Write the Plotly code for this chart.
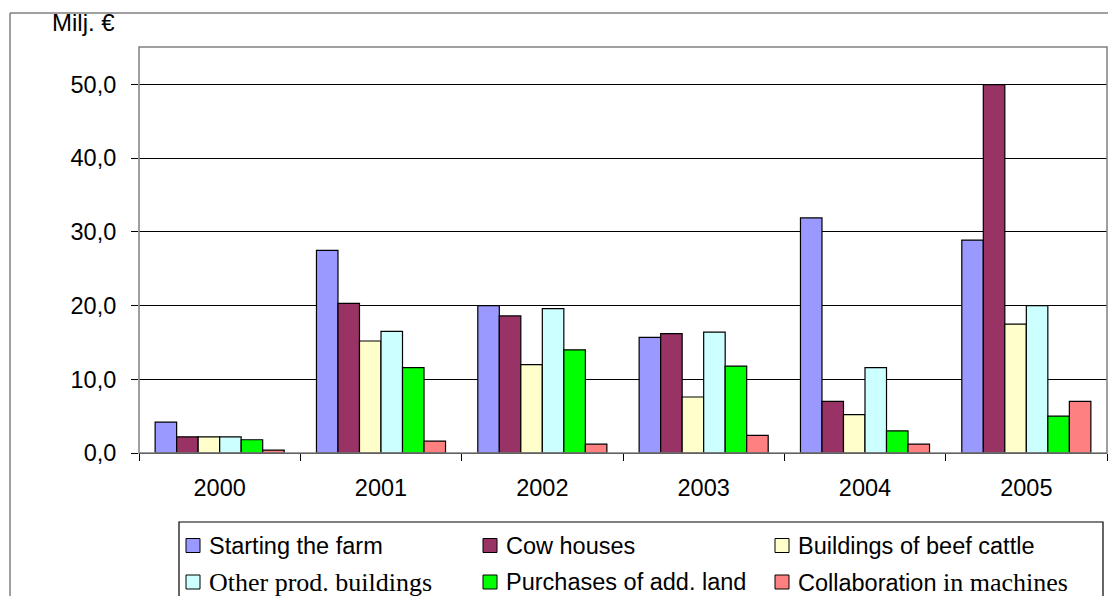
import plotly.graph_objects as go

# Investment support by purpose, million euro
years = ["2000", "2001", "2002", "2003", "2004", "2005"]
series_names = [
    "Starting the farm",
    "Cow houses",
    "Buildings of beef cattle",
    "Other prod. buildings",
    "Purchases of add. land",
    "Collaboration in machines",
]
starting_farm = [4.2, 27.5, 20.0, 15.7, 31.9, 28.9]
cow_houses = [2.2, 20.3, 18.6, 16.2, 7.0, 50.0]
beef_buildings = [2.2, 15.2, 12.0, 7.6, 5.2, 17.5]
other_buildings = [2.2, 16.5, 19.6, 16.4, 11.6, 20.0]
land_purchases = [1.8, 11.6, 14.0, 11.8, 3.0, 5.0]
machine_collab = [0.4, 1.6, 1.2, 2.4, 1.2, 7.0]
series_values = [starting_farm, cow_houses, beef_buildings,
                 other_buildings, land_purchases, machine_collab]
colors = ["#9999FF", "#993366", "#FFFFCC", "#CCFFFF", "#00FF00", "#FF8080"]

# Legend labels (some entries mix sans and serif type)
SERIF = "style='font-family:Liberation Serif, Times New Roman, serif;font-size:26px'"
legend_labels = [
    "Starting the farm",
    "Cow houses",
    "Buildings of beef cattle",
    f"<span {SERIF}>Other prod. buildings</span>",
    "Purchases of add. land",
    f"Collaboration<span {SERIF}> in machines</span>",
]

W, H = 1108, 596
L, R, T, B = 139, 1107, 47, 453
SANS = "Liberation Sans, Arial, sans-serif"
FS = 23.5


def px(x):
    return (x - L) / (R - L)


def py(y):
    return (B - y) / (B - T)


fig = go.Figure()
for name, vals, col in zip(series_names, series_values, colors):
    fig.add_trace(go.Bar(
        x=years, y=vals, name=name,
        marker=dict(color=col, line=dict(color="#000000", width=1.2)),
        showlegend=False,
    ))

shapes = [
    # outer chart frame (top and left edges; the rest runs off the page)
    dict(type="line", xref="paper", yref="paper",
         x0=px(10), x1=px(W), y0=py(13), y1=py(13),
         line=dict(color="#808080", width=1.5), layer="below"),
    dict(type="line", xref="paper", yref="paper",
         x0=px(10), x1=px(10), y0=py(13), y1=py(H),
         line=dict(color="#808080", width=1.5), layer="below"),
    # plot area border
    dict(type="rect", xref="paper", yref="paper",
         x0=0, x1=1, y0=0, y1=1,
         line=dict(color="#808080", width=1.5), layer="above"),
    # legend frame (top, left, right edges)
    dict(type="path", xref="paper", yref="paper",
         path=f"M {px(179)} {py(H)} L {px(179)} {py(522)} L {px(1103)} {py(522)} L {px(1103)} {py(H)}",
         line=dict(color="#000000", width=1.2)),
]
annotations = [
    dict(text="Milj. €", xref="paper", yref="paper", x=px(50), y=py(22),
         xanchor="left", yanchor="middle", showarrow=False,
         font=dict(family=SANS, size=24, color="#000000")),
]

col_x = [186, 483, 775]
row_y = [545.5, 582]
for i, (label, col) in enumerate(zip(legend_labels, colors)):
    cx = col_x[i % 3]
    cy = row_y[i // 3]
    shapes.append(dict(type="rect", xref="paper", yref="paper",
                       x0=px(cx), x1=px(cx + 14), y0=py(cy + 7), y1=py(cy - 7),
                       fillcolor=col, line=dict(color="#000000", width=1)))
    annotations.append(dict(text=label, xref="paper", yref="paper",
                            x=px(cx + 21), y=py(cy), xanchor="left", yanchor="middle",
                            showarrow=False,
                            font=dict(family=SANS, size=FS, color="#000000")))

fig.update_layout(
    width=W, height=H,
    margin=dict(l=L, r=W - R, t=T, b=H - B, pad=0),
    paper_bgcolor="white", plot_bgcolor="white",
    barmode="group", bargap=0.2, bargroupgap=0,
    separators=", ",
    font=dict(family=SANS, size=FS, color="#000000"),
    xaxis=dict(
        type="category", tickson="boundaries", ticks="outside", ticklen=7,
        tickcolor="#000000", tickwidth=1.2, showline=True, linecolor="#000000",
        linewidth=1.2, showgrid=False, ticklabelstandoff=14,
        tickfont=dict(family=SANS, size=FS),
    ),
    yaxis=dict(
        range=[0, 55.1], tickvals=[0, 10, 20, 30, 40, 50], tickformat=".1f",
        ticks="outside", ticklen=7, tickcolor="#000000", tickwidth=1.2,
        showgrid=True, gridcolor="#000000", gridwidth=1.2, zeroline=False,
        showline=False, ticklabelstandoff=10,
        tickfont=dict(family=SANS, size=FS),
    ),
    shapes=shapes, annotations=annotations,
)

fig.write_html("out.html")
